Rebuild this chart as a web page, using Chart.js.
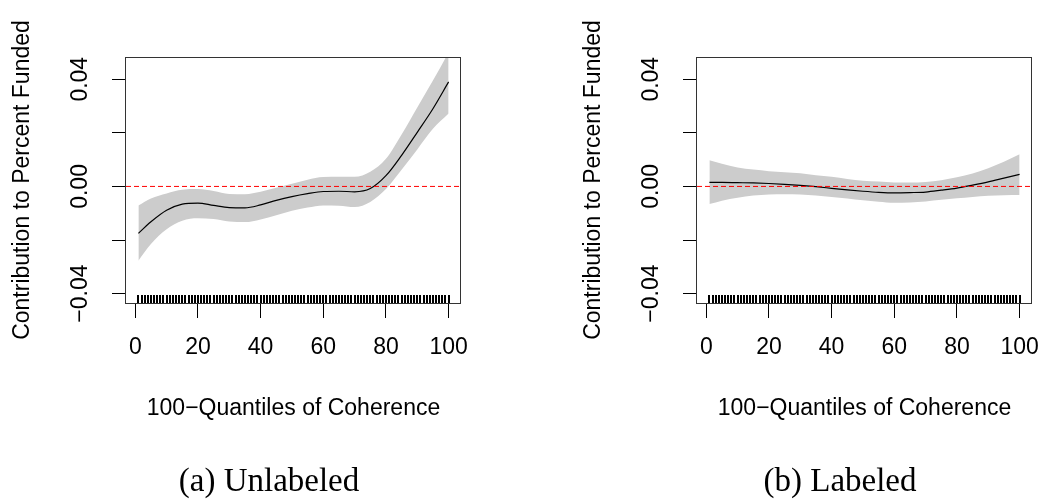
<!DOCTYPE html>
<html>
<head>
<meta charset="utf-8">
<script src="https://cdn.jsdelivr.net/npm/chart.js@4.4.1/dist/chart.umd.min.js"></script>
<style>
  body { margin: 0; background: #fff; width: 1042px; height: 501px; position: relative; overflow: hidden; }
  canvas { position: absolute; top: 0; }
  #graficoA { left: 0; }
  #graficoB { left: 521px; }
  .legenda { position: absolute; top: 464px; width: 300px; text-align: center;
             font: 33px/33px "Liberation Serif", "Times New Roman", serif; color: #000; }
</style>
</head>
<body>
<canvas id="graficoA" width="521" height="501"></canvas>
<canvas id="graficoB" width="521" height="501"></canvas>
<div class="legenda" style="left:119px">(a) Unlabeled</div>
<div class="legenda" style="left:690px">(b) Labeled</div>
<script>
// quantis onde a curva foi lida
const quantis = [1, 5, 10, 15, 20, 25, 30, 35, 40, 45, 50, 55, 60, 65, 70, 75, 80, 85, 90, 95, 100];

// (a) Unlabeled
const ajusteA = [-0.0175, -0.0132, -0.0089, -0.0066, -0.0062, -0.0071, -0.0079, -0.0080, -0.0069, -0.0052, -0.0038, -0.0027, -0.0019, -0.0018, -0.0020, -0.0008, 0.0040, 0.0116, 0.0202, 0.0290, 0.0390];
const superiorA = [-0.0071, -0.0045, -0.0026, -0.0012, -0.0010, -0.0017, -0.0028, -0.0029, -0.0020, -0.0005, 0.0010, 0.0025, 0.0035, 0.0036, 0.0036, 0.0055, 0.0103, 0.0194, 0.0295, 0.0395, 0.0500];
const inferiorA = [-0.0277, -0.0215, -0.0160, -0.0128, -0.0119, -0.0122, -0.0131, -0.0133, -0.0123, -0.0108, -0.0091, -0.0079, -0.0071, -0.0072, -0.0077, -0.0058, -0.0010, 0.0062, 0.0138, 0.0215, 0.0272];

// (b) Labeled
const ajusteB = [0.0015, 0.0015, 0.0014, 0.0013, 0.0011, 0.0008, 0.0004, -0.0001, -0.0007, -0.0013, -0.0018, -0.0022, -0.0024, -0.0023, -0.0021, -0.0014, -0.0006, 0.0005, 0.0017, 0.0031, 0.0045];
const superiorB = [0.0098, 0.0085, 0.0071, 0.0063, 0.0057, 0.0053, 0.0049, 0.0042, 0.0036, 0.0028, 0.0021, 0.0018, 0.0015, 0.0015, 0.0017, 0.0023, 0.0034, 0.0048, 0.0068, 0.0092, 0.0120];
const inferiorB = [-0.0066, -0.0053, -0.0042, -0.0034, -0.0030, -0.0029, -0.0030, -0.0034, -0.0039, -0.0045, -0.0052, -0.0057, -0.0061, -0.0060, -0.0056, -0.0050, -0.0044, -0.0039, -0.0035, -0.0033, -0.0032];

// rug (um traço por quantil)
const rugX = [1, 2, 3, 4, 5, 6, 7, 8, 9, 10, 11, 12, 13, 14, 15, 16, 17, 18, 19, 20,
  21, 22, 23, 24, 25, 26, 27, 28, 29, 30, 31, 32, 33, 34, 35, 36, 37, 38, 39, 40,
  41, 42, 43, 44, 45, 46, 47, 48, 49, 50, 51, 52, 53, 54, 55, 56, 57, 58, 59, 60,
  61, 62, 63, 64, 65, 66, 67, 68, 69, 70, 71, 72, 73, 74, 75, 76, 77, 78, 79, 80,
  81, 82, 83, 84, 85, 86, 87, 88, 89, 90, 91, 92, 93, 94, 95, 96, 97, 98, 99, 100];

const xTicks = [0, 20, 40, 60, 80, 100];
const yTicks = [-0.04, -0.02, 0, 0.02, 0.04];
const yRotulos = ['\u22120.04', '', '0.00', '', '0.04'];
const xLimites = [-2.96, 103.96];
const yLimites = [-0.0435, 0.0483];

Chart.defaults.font.family = '"Liberation Sans", Arial, Helvetica, sans-serif';
Chart.defaults.font.size = 23;
Chart.defaults.color = '#000';

const pares = (ys) => quantis.map((x, i) => ({ x: x, y: ys[i] }));

// moldura do gráfico + rug no eixo x
const molduraRug = {
  id: 'molduraRug',
  afterDatasetsDraw(chart) {
    const { ctx, chartArea: a, scales: { x } } = chart;
    ctx.save();
    ctx.fillStyle = '#000';
    rugX.forEach(v => {
      const px = Math.round(x.getPixelForValue(v));
      ctx.fillRect(px - 1, a.bottom - 8, 2, 8);
    });
    ctx.strokeStyle = '#333';
    ctx.lineWidth = 1;
    ctx.strokeRect(Math.round(a.left) - 0.5, Math.round(a.top) + 0.5,
      Math.round(a.right - a.left), Math.round(a.bottom - a.top));
    ctx.restore();
  }
};

function criaGrafico(id, ajuste, superior, inferior, padEsq, padDir) {
  return new Chart(document.getElementById(id), {
    type: 'line',
    data: {
      datasets: [
        // faixa de confiança (desenhada por baixo)
        { data: pares(superior), borderColor: 'rgba(0,0,0,0)', borderWidth: 0, fill: false, order: 3 },
        { data: pares(inferior), borderColor: 'rgba(0,0,0,0)', borderWidth: 0, fill: '-1', backgroundColor: '#cccccc', order: 2 },
        // curva ajustada
        { data: pares(ajuste), borderColor: '#000', borderWidth: 1.2, fill: false, order: 1 },
        // linha tracejada vermelha em zero
        { data: [{ x: xLimites[0], y: 0 }, { x: xLimites[1], y: 0 }], borderColor: '#ff0000',
          borderWidth: 1, borderDash: [5, 3], fill: false, cubicInterpolationMode: 'default', tension: 0, order: 0 }
      ]
    },
    options: {
      responsive: false,
      animation: false,
      devicePixelRatio: 1,
      elements: { point: { radius: 0 }, line: { cubicInterpolationMode: 'monotone' } },
      layout: { padding: { top: 57, bottom: 79, left: padEsq, right: padDir } },
      plugins: { legend: { display: false }, tooltip: { enabled: false } },
      scales: {
        x: {
          type: 'linear',
          min: xLimites[0],
          max: xLimites[1],
          afterBuildTicks: s => { s.ticks = xTicks.map(v => ({ value: v })); },
          afterFit: s => { s.height = 119; s.paddingLeft = 0; s.paddingRight = 0; },
          grid: { drawOnChartArea: false, color: '#000', tickLength: 15 },
          border: { display: false },
          ticks: { autoSkip: false, maxRotation: 0, padding: 16, color: '#000' },
          title: { display: true, text: '100\u2212Quantiles of Coherence', padding: { top: 0, bottom: 0 }, color: '#000' }
        },
        y: {
          type: 'linear',
          min: yLimites[0],
          max: yLimites[1],
          afterBuildTicks: s => { s.ticks = yTicks.map(v => ({ value: v })); },
          afterFit: s => { s.width = 126; s.paddingTop = 0; s.paddingBottom = 0; },
          grid: { drawOnChartArea: false, color: '#000', tickLength: 14 },
          border: { display: false },
          ticks: {
            autoSkip: false, minRotation: 90, maxRotation: 90, crossAlign: 'center', padding: 2, color: '#000',
            callback: (v, i) => yRotulos[i]
          },
          title: { display: true, text: 'Contribution to Percent Funded', padding: { top: 9, bottom: 0 }, color: '#000' }
        }
      }
    },
    plugins: [molduraRug]
  });
}

criaGrafico('graficoA', ajusteA, superiorA, inferiorA, 0, 60);
criaGrafico('graficoB', ajusteB, superiorB, inferiorB, 50, 10);
</script>
</body>
</html>
